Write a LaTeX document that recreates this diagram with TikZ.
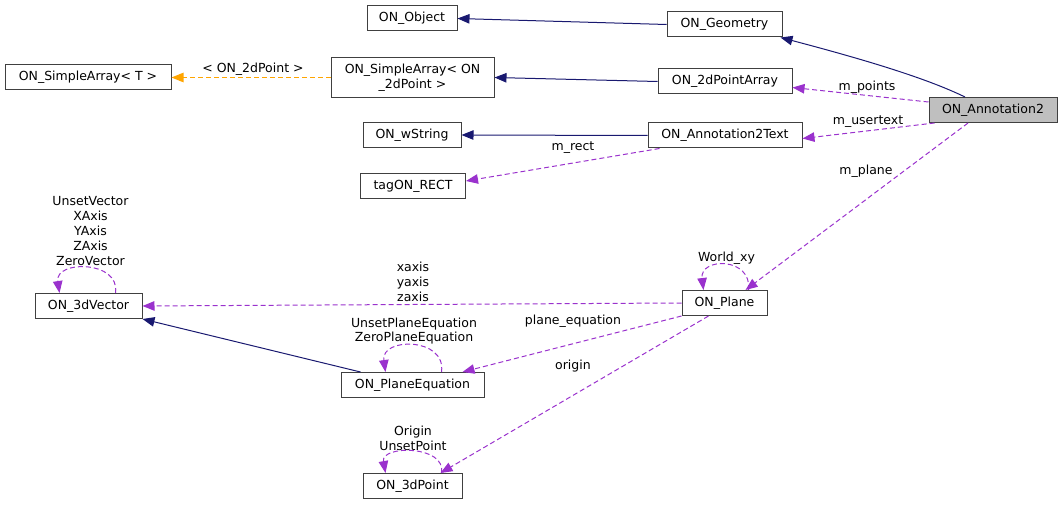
\documentclass[tikz,border=0pt]{standalone}
\usepackage{fontspec}
\setmainfont{DejaVu Sans}
\usetikzlibrary{arrows.meta}

\definecolor{navyedge}{HTML}{191970}
\definecolor{orchidedge}{HTML}{9A32CD}
\definecolor{tmpledge}{HTML}{FFA500}
\definecolor{boxline}{HTML}{404040}
\definecolor{focusfill}{HTML}{BFBFBF}

\begin{document}
\begin{tikzpicture}[
    x=1pt, y=-1pt,
    font=\fontsize{12.5}{14.8}\selectfont,
    >={Triangle[length=12pt, width=9.5pt]},
    classbox/.style={shape=rectangle, draw=boxline, line width=1pt, fill=white, minimum height=25pt, inner xsep=2pt, inner ysep=1pt, align=center},
    classfocus/.style={classbox, fill=focusfill},
    lbl/.style={inner sep=0pt, align=center},
    inherit/.style={color=navyedge, line width=1pt, ->},
    member/.style={color=orchidedge, line width=1pt, dash pattern=on 5pt off 3pt, ->},
    tmpl/.style={color=tmpledge, line width=1.1pt, dash pattern=on 5pt off 3pt, ->},
]
\useasboundingbox (0,0) rectangle (1063,505);

\node[classbox, minimum width=90pt] (obj) at (412, 18.5) {ON\_Object};
\node[classbox, minimum width=115pt] (geom) at (724.5, 24.5) {ON\_Geometry};
\node[classbox, minimum width=166pt] (satmpl) at (88, 77.5) {ON\_SimpleArray< T >};
\node[classbox, minimum width=163pt, minimum height=40pt] (sapt) at (412.5, 77.5) {ON\_SimpleArray< ON\\\_2dPoint >};
\node[classbox, minimum width=134pt] (pta) at (725, 81.5) {ON\_2dPointArray};
\node[classfocus, minimum width=128pt] (ann) at (993, 110) {ON\_Annotation2};
\node[classbox, minimum width=98pt] (wstr) at (412, 135) {ON\_wString};
\node[classbox, minimum width=154pt] (atext) at (725, 135.5) {ON\_Annotation2Text};
\node[classbox, minimum width=105pt] (rect) at (413, 186) {tagON\_RECT};
\node[classbox, minimum width=107pt] (vec) at (88.5, 306) {ON\_3dVector};
\node[classbox, minimum width=85pt] (plane) at (724.5, 303) {ON\_Plane};
\node[classbox, minimum width=143pt] (peq) at (412.5, 385) {ON\_PlaneEquation};
\node[classbox, minimum width=99pt] (pt) at (412.5, 486) {ON\_3dPoint};

% edge labels
\node[lbl] (ltmpl) at (253, 69) {< ON\_2dPoint >};
\node[lbl] (lpoints) at (867, 87) {m\_points};
\node[lbl] (lusertext) at (868, 122) {m\_usertext};
\node[lbl] (lrect) at (573, 148) {m\_rect};
\node[lbl] (lplane) at (866, 171) {m\_plane};
\node[lbl] (lworld) at (726.5, 258) {World\_xy};
\node[lbl] (laxes) at (413, 282) {xaxis\\yaxis\\zaxis};
\node[lbl] (lpeq) at (573, 321) {plane\_equation};
\node[lbl] (lorigin) at (573, 366) {origin};
\node[lbl] (lvec) at (90.5, 231) {UnsetVector\\XAxis\\YAxis\\ZAxis\\ZeroVector};
\node[lbl] (lpeqs) at (414, 331) {UnsetPlaneEquation\\ZeroPlaneEquation};
\node[lbl] (lpts) at (413, 438) {Origin\\UnsetPoint};

\path[inherit]
    (geom.west) edge (obj.east)
    (pta.west) edge (sapt.east)
    (atext.west) edge (wstr.east)
    ([xshift=-52pt]peq.north) edge (vec.south east)
;
\draw[inherit] ([xshift=-28pt]ann.north) .. controls +(-35,-17) and +(95,25) .. ([xshift=-2pt]geom.south east);

\path[tmpl]
    (sapt.west) edge (satmpl.east)
;

\path[member]
    ([yshift=8pt]ann.west) edge ([yshift=-6pt]pta.east)
    ([xshift=6pt]ann.south west) edge ([yshift=-3pt]atext.east)
    ([xshift=12pt]atext.south west) edge ([yshift=5pt]rect.east)
    ([xshift=-25pt]ann.south) edge ([xshift=21pt]plane.north)
    (plane.west) edge (vec.east)
    (plane.south west) edge ([xshift=50pt]peq.north)
    ([xshift=-16pt]plane.south) edge ([xshift=28pt]pt.north)
;

% self references
\draw[member] ([xshift=24pt]plane.north) .. controls +(4,-33) and +(-4,-33) .. ([xshift=-21pt]plane.north);
\draw[member] ([xshift=27pt]vec.north) .. controls +(5,-33) and +(-5,-33) .. ([xshift=-29pt]vec.north);
\draw[member] ([xshift=29pt]peq.north) .. controls +(5,-35) and +(-5,-35) .. ([xshift=-27pt]peq.north);
\draw[member] ([xshift=29pt]pt.north) .. controls +(5,-28) and +(-5,-28) .. ([xshift=-27pt]pt.north);
\end{tikzpicture}
\end{document}
